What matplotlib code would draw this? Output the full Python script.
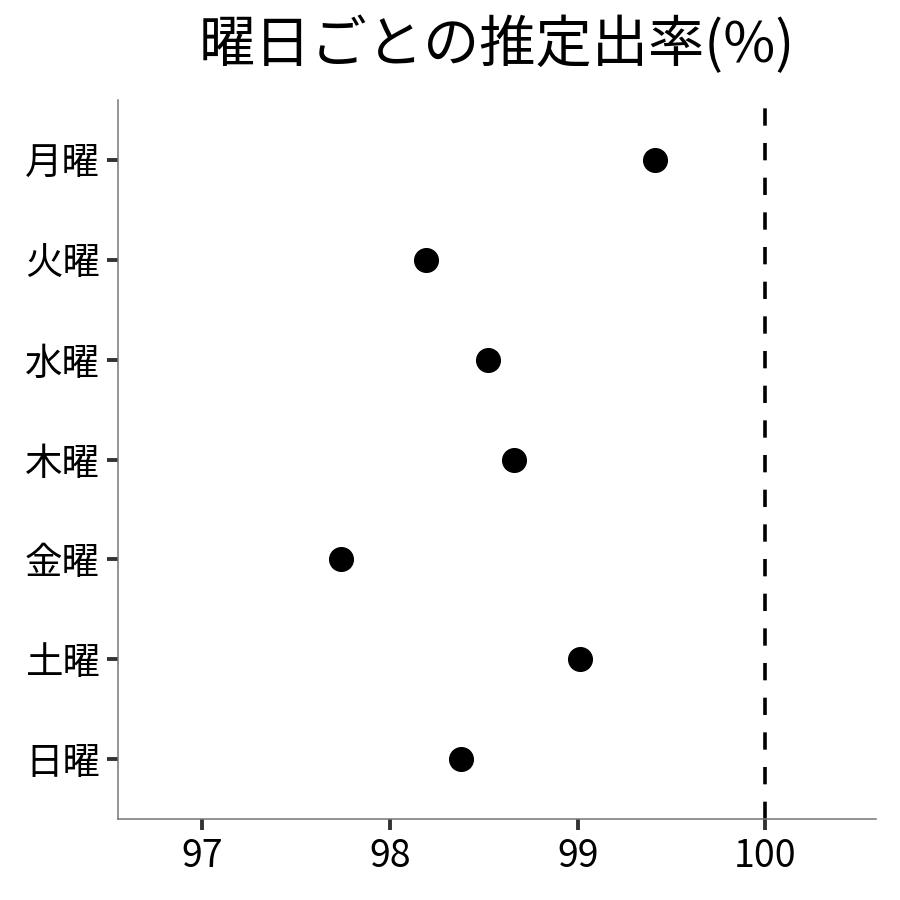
import matplotlib
matplotlib.use("Agg")
import matplotlib.pyplot as plt

plt.rcParams["font.family"] = ["Noto Sans CJK JP", "DejaVu Sans"]

# values
days = ["月曜", "火曜", "水曜", "木曜", "金曜", "土曜", "日曜"]
rates = [99.41, 98.19, 98.52, 98.66, 97.74, 99.01, 98.38]
x_ticks = [97, 98, 99, 100]
ref_line = 100

fig = plt.figure(figsize=(9, 9), dpi=100)
ax = fig.add_axes([118 / 900, 81 / 900, (876 - 118) / 900, (819 - 100) / 900])

y_pos = list(range(len(days)))
ax.scatter(rates, y_pos, s=290, color="black", zorder=3)
ax.axvline(ref_line, color="black", linewidth=2.6, linestyle=(0, (4.8, 4.8)))

ax.set_yticks(y_pos)
ax.set_yticklabels(days)
ax.set_ylim(len(days) - 1 + 0.6, -0.6)
ax.set_xticks(x_ticks)
ax.set_xlim(96.55, 100.59)

for side in ["top", "right"]:
    ax.spines[side].set_visible(False)
for side in ["left", "bottom"]:
    ax.spines[side].set_color("#777777")
    ax.spines[side].set_linewidth(1.1)

ax.tick_params(axis="both", length=8, width=2.8, color="#333333",
               labelsize=27, labelcolor="black", pad=5)

ax.set_title("曜日ごとの推定出率(%)", fontsize=40.5, pad=27)

fig.savefig("out.png", dpi=100)
